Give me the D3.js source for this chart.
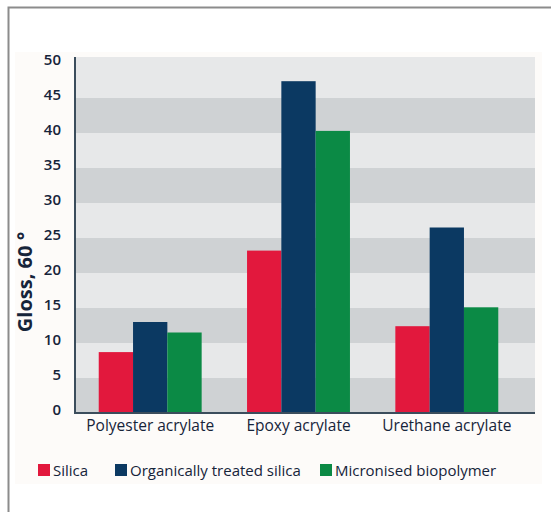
<!DOCTYPE html>
<html>
<head>
<meta charset="utf-8">
<script src="https://cdn.jsdelivr.net/npm/d3@7"></script>
<style>
  body { margin: 0; background: #fff; }
  text { font-family: "Open Sans", "Noto Sans", sans-serif; fill: #16243a; }
</style>
</head>
<body>
<div id="chart"></div>
<script>
/* DATA */
const categories = ["Polyester acrylate", "Epoxy acrylate", "Urethane acrylate"];
const seriesNames = ["Silica", "Organically treated silica", "Micronised biopolymer"];
const silica = [8.7, 23.2, 12.4];
const organicSilica = [13.0, 47.4, 26.5];
const biopolymer = [11.5, 40.3, 15.1];
const yTicks = [0, 5, 10, 15, 20, 25, 30, 35, 40, 45, 50];

const colors = ["#e2183d", "#0b3962", "#0b8a45"];

const width = 551;
const height = 512;
const plotLeft = 75, plotRight = 535, plotTop = 63, plotBottom = 413;

const svg = d3.select("#chart")
    .append("svg")
    .attr("width", width)
    .attr("height", height)

// frame + faint panel
svg.append("rect")
    .attr("x", 15).attr("y", 52)
    .attr("width", 527).attr("height", 432)
    .attr("fill", "#fdfbf9")
svg.append("path")
    .attr("d", `M8.5,${height} V7.5 H${width}`)
    .attr("fill", "none")
    .attr("stroke", "#8c8c8c")
    .attr("stroke-width", 2)

/* SCALES */
const yScale = d3.scaleLinear()
    .domain([0, 50])
    .range([plotBottom, plotTop])

const xScale = d3.scaleBand()
    .domain(categories)
    .range([plotLeft, 522])
    .paddingInner(0.306)
    .paddingOuter(0.16)

const xSub = d3.scaleBand()
    .domain(seriesNames)
    .range([0, xScale.bandwidth()])

// alternating bands
const bandStarts = yTicks.slice(0, -1)
svg.selectAll("rect.band")
    .data(bandStarts)
    .join("rect")
    .attr("class", "band")
    .attr("x", plotLeft)
    .attr("width", plotRight - plotLeft)
    .attr("y", d => d === 45 ? yScale(50) - 6 : yScale(d + 5))
    .attr("height", d => d === 45 ? yScale(45) - yScale(50) + 6 : yScale(d) - yScale(d + 5))
    .attr("fill", (d, i) => i % 2 === 0 ? "#cfd2d4" : "#e7e8e9")

/* BARS */
const rows = categories.map((c, i) => ({
    cat: c,
    values: [silica[i], organicSilica[i], biopolymer[i]]
}))

const groups = svg.selectAll("g.group")
    .data(rows)
    .join("g")
    .attr("class", "group")
    .attr("transform", d => `translate(${xScale(d.cat)},0)`)

groups.selectAll("rect")
    .data(d => d.values.map((v, j) => ({ name: seriesNames[j], value: v, j })))
    .join("rect")
    .attr("x", d => xSub(d.name))
    .attr("width", xSub.bandwidth())
    .attr("y", d => yScale(d.value))
    .attr("height", d => yScale(0) - yScale(d.value))
    .attr("fill", d => colors[d.j])

/* AXES */
svg.append("path")
    .attr("d", `M${plotLeft},${yScale(50) - 6} V${plotBottom} H${plotRight}`)
    .attr("fill", "none")
    .attr("stroke", "#3b4d5c")
    .attr("stroke-width", 2)

const yAxis = d3.axisLeft(yScale).tickValues(yTicks).tickSize(0).tickPadding(14)
svg.append("g")
    .attr("transform", `translate(${plotLeft},-3)`)
    .call(yAxis)
    .call(g => g.select(".domain").remove())
    .selectAll("text")
    .style("font-size", "15px")
    .style("font-weight", "600")
    .attr("fill", "#16243a")

const xAxis = d3.axisBottom(xScale).tickSize(0).tickPadding(7)
svg.append("g")
    .attr("transform", `translate(0,${plotBottom})`)
    .call(xAxis)
    .call(g => g.select(".domain").remove())
    .selectAll("text")
    .style("font-size", "15.5px")
    .style("font-weight", "500")
    .attr("fill", "#16243a")

// y title
svg.append("text")
    .attr("transform", `translate(32,282) rotate(-90)`)
    .attr("text-anchor", "middle")
    .style("font-size", "20px")
    .style("font-weight", "700")
    .text("Gloss, 60 °")

/* LEGEND */
const legendX = [38, 115, 320]
const legend = svg.selectAll("g.legend")
    .data(seriesNames)
    .join("g")
    .attr("class", "legend")
    .attr("transform", (d, i) => `translate(${legendX[i]},464)`)

legend.append("rect")
    .attr("width", 12).attr("height", 12)
    .attr("fill", (d, i) => colors[i])

legend.append("text")
    .attr("x", 15)
    .attr("y", 11.5)
    .style("font-size", "15px")
    .style("font-weight", "500")
    .text(d => d)
</script>
</body>
</html>
